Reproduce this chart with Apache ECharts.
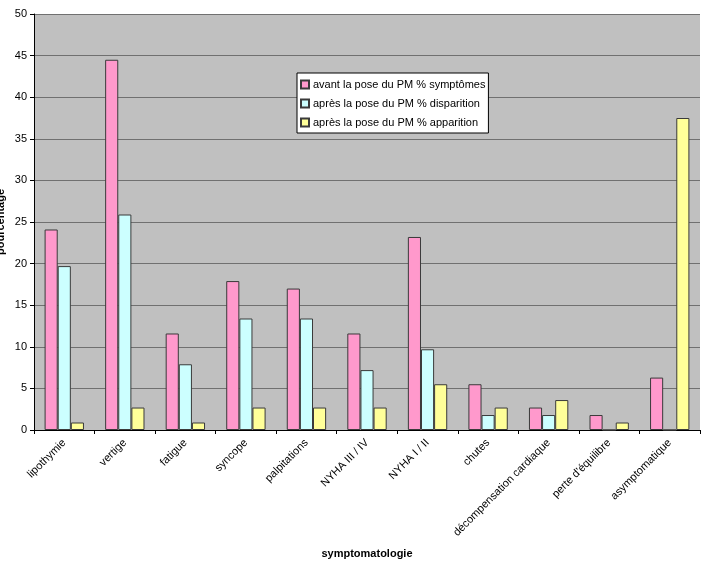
<!DOCTYPE html>
<html>
<head>
<meta charset="utf-8">
<script src="https://cdn.jsdelivr.net/npm/echarts@6/dist/echarts.min.js"></script>
<style>
    html,body{margin:0;padding:0;background:#fff;}
    #main{width:713px;height:561px;}
</style>
</head>
<body>
<div id="main"></div>
<script>
    // catégories et valeurs (%)
    var categories = ['lipothymie', 'vertige', 'fatigue', 'syncope', 'palpitations', 'NYHA III / IV',
        'NYHA I / II', 'chutes', 'décompensation cardiaque', "perte d'équilibre", 'asymptomatique'];
    var avantSymptomes = [24.1, 44.5, 11.6, 17.9, 17.0, 11.6, 23.2, 5.5, 2.7, 1.8, 6.3];
    var apresDisparition = [19.7, 25.9, 7.9, 13.4, 13.4, 7.2, 9.7, 1.8, 1.8, 0, 0];
    var apresApparition = [0.9, 2.7, 0.9, 2.7, 2.7, 2.7, 5.5, 2.7, 3.6, 0.9, 37.5];
    var seriesNames = ['avant la pose du PM % symptômes', 'après la pose du PM % disparition', 'après la pose du PM % apparition'];
    var yTicks = [0, 50, 5];

    var myChart = echarts.init(document.getElementById('main'));
    var font = 'Arial, "Liberation Sans", sans-serif';

    function bar(name, data, color){
        return {
            name: name,
            type: 'bar',
            data: data,
            barGap: '0%',
            barCategoryGap: '35%',
            itemStyle: {color: color, borderColor: '#3a3a3a', borderWidth: 1},
            emphasis: {disabled: true}
        };
    }

    myChart.setOption({
        animation: false,
        textStyle: {fontFamily: font},
        grid: {left: 34, right: 13, top: 14, bottom: 131, show: true, backgroundColor: '#c0c0c0', borderWidth: 0,
            outerBoundsMode: 'none', containLabel: false},
        legend: {
            orient: 'vertical',
            left: 297,
            top: 73,
            backgroundColor: '#fff',
            borderColor: '#000',
            borderWidth: 1,
            padding: [6, 3, 5, 3],
            itemGap: 8,
            itemWidth: 8,
            itemHeight: 8,
            icon: 'rect',
            textStyle: {fontFamily: font, fontSize: 11, color: '#000', padding: [0, 0, 0, -1]},
            data: seriesNames
        },
        xAxis: {
            type: 'category',
            data: categories,
            name: 'symptomatologie',
            nameLocation: 'middle',
            nameGap: 118,
            nameMoveOverlap: false,
            nameTextStyle: {fontFamily: font, fontSize: 11, fontWeight: 'bold', color: '#000'},
            axisLine: {lineStyle: {color: '#000'}},
            axisTick: {show: true, length: 4, lineStyle: {color: '#000'}},
            axisLabel: {rotate: 45, fontSize: 11, color: '#000', margin: 11, interval: 0}
        },
        yAxis: {
            type: 'value',
            min: yTicks[0],
            max: yTicks[1],
            interval: yTicks[2],
            name: 'pourcentage',
            nameLocation: 'middle',
            nameGap: 28,
            nameMoveOverlap: false,
            nameTextStyle: {fontFamily: font, fontSize: 11, fontWeight: 'bold', color: '#000'},
            axisLine: {show: true, lineStyle: {color: '#000'}},
            axisTick: {show: true, length: 4, lineStyle: {color: '#000'}},
            axisLabel: {fontSize: 11, color: '#000', margin: 7},
            splitLine: {lineStyle: {color: '#707070', width: 1}}
        },
        series: [
            bar(seriesNames[0], avantSymptomes, '#ff99cc'),
            bar(seriesNames[1], apresDisparition, '#ccffff'),
            bar(seriesNames[2], apresApparition, '#ffff99')
        ]
    });
</script>
</body>
</html>
